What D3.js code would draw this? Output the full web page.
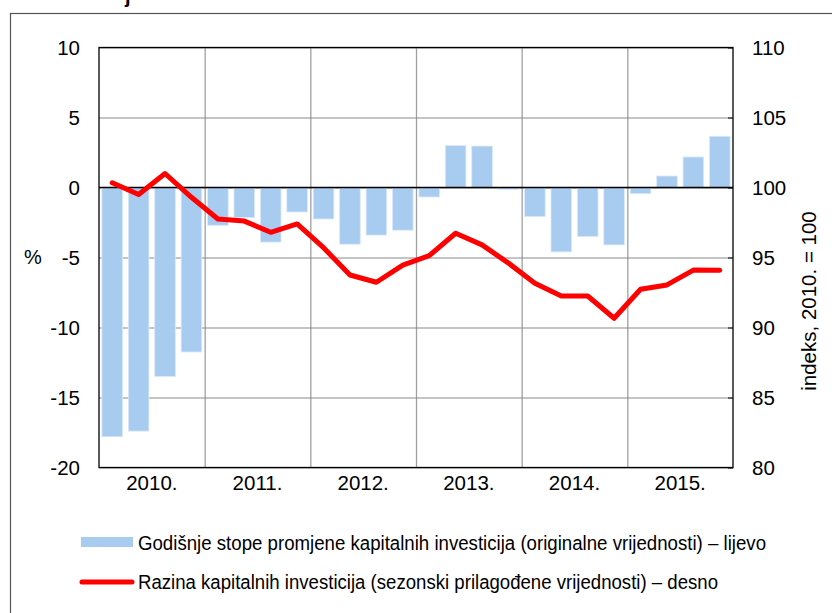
<!DOCTYPE html>
<html>
<head>
<meta charset="utf-8">
<script src="https://cdn.jsdelivr.net/npm/d3@7"></script>
<style>
  body { margin: 0; background: #fff; }
  svg { display: block; font-family: "Liberation Sans", Arial, sans-serif; }
</style>
</head>
<body>
<svg id="chart" width="832" height="613"></svg>
<script>
// data
const years = ["2010.", "2011.", "2012.", "2013.", "2014.", "2015."];
const quarters = ["Q1", "Q2", "Q3", "Q4"];
const periods = years.flatMap(y => quarters.map(q => y + q));

// annual growth rates of capital investment, % (left axis)
const growth = [-17.8, -17.4, -13.5, -11.75, -2.7, -2.15, -3.9, -1.75,
  -2.25, -4.05, -3.4, -3.05, -0.68, 3.0, 2.96, -0.13,
  -2.08, -4.6, -3.5, -4.1, -0.44, 0.82, 2.18, 3.66];
// seasonally adjusted level, index 2010 = 100 (right axis)
const level = [100.34, 99.5, 101.0, 99.3, 97.75, 97.6, 96.8, 97.4,
  95.7, 93.75, 93.23, 94.46, 95.13, 96.73, 95.9, 94.6,
  93.16, 92.25, 92.25, 90.66, 92.73, 93.04, 94.1, 94.09];

const leftTicks = [-20, -15, -10, -5, 0, 5, 10];
const rightTicks = [80, 85, 90, 95, 100, 105, 110];

const legendLabels = [
  "Godišnje stope promjene kapitalnih investicija (originalne vrijednosti) – lijevo",
  "Razina kapitalnih investicija (sezonski prilagođene vrijednosti) – desno"
];

const margin = { left: 99, right: 733, top: 47.5, bottom: 467.5 };
const svg = d3.select("#chart");

// outer frame (runs off the right and bottom edge)
svg.append("rect")
  .attr("x", 10.5).attr("y", 13.5)
  .attr("width", 900).attr("height", 700)
  .attr("fill", "none").attr("stroke", "#555").attr("stroke-width", 1.2);

// cut-off title fragment at the very top
svg.append("text")
  .attr("x", 125).attr("y", 3)
  .attr("font-size", 20).attr("font-weight", "bold")
  .text("j");

const x = d3.scaleBand(periods, [margin.left, margin.right])
  .paddingInner(0.22).paddingOuter(0.11);
const xYear = d3.scaleBand(years, [margin.left, margin.right]);
const yL = d3.scaleLinear([-20, 10], [margin.bottom, margin.top]);
const yR = d3.scaleLinear([80, 110], [margin.bottom, margin.top]);

// vertical year gridlines
svg.append("g")
  .selectAll("line")
  .data(years.slice(1))
  .join("line")
  .attr("x1", d => xYear(d) + 0.5).attr("x2", d => xYear(d) + 0.5)
  .attr("y1", margin.top).attr("y2", margin.bottom)
  .attr("stroke", "#a0a0a0").attr("stroke-width", 1.3);

// left axis with horizontal gridlines
const gL = svg.append("g")
  .attr("transform", `translate(${margin.left},0)`)
  .call(d3.axisLeft(yL).tickValues(leftTicks).tickFormat(d => String(d))
    .tickSize(-(margin.right - margin.left)).tickPadding(19));
gL.select(".domain").remove();
gL.selectAll(".tick line").attr("stroke", "#8a8a8a").attr("stroke-width", 1.1);
gL.selectAll(".tick text").attr("font-size", 20.5).attr("fill", "#000");

// bars
svg.append("g")
  .selectAll("rect")
  .data(growth)
  .join("rect")
  .attr("x", (d, i) => x(periods[i]))
  .attr("width", x.bandwidth())
  .attr("y", d => yL(Math.max(0, d)))
  .attr("height", d => Math.abs(yL(d) - yL(0)))
  .attr("fill", "#a8cbf0")
  .attr("stroke", "#dbe9f9").attr("stroke-width", 0.8);

// zero line
svg.append("line")
  .attr("x1", margin.left).attr("x2", margin.right)
  .attr("y1", yL(0)).attr("y2", yL(0))
  .attr("stroke", "#000").attr("stroke-width", 1.3);

// right axis
const gR = svg.append("g")
  .attr("transform", `translate(${margin.right},0)`)
  .call(d3.axisRight(yR).tickValues(rightTicks).tickFormat(d => String(d))
    .tickSize(-5).tickPadding(19));
gR.select(".domain").remove();
gR.selectAll(".tick line").attr("stroke", "#000");
gR.selectAll(".tick text").attr("font-size", 20.5).attr("fill", "#000");

// bottom axis labels
const gB = svg.append("g")
  .attr("transform", `translate(0,${margin.bottom})`)
  .call(d3.axisBottom(xYear).tickSize(0).tickPadding(8));
gB.select(".domain").remove();
gB.selectAll(".tick text").attr("font-size", 20.5).attr("fill", "#000");

// plot frame
svg.append("rect")
  .attr("x", margin.left).attr("y", margin.top)
  .attr("width", margin.right - margin.left)
  .attr("height", margin.bottom - margin.top)
  .attr("fill", "none").attr("stroke", "#000").attr("stroke-width", 1.3);

// level line
const line = d3.line()
  .x((d, i) => x(periods[i]) + x.bandwidth() / 2)
  .y(d => yR(d));
svg.append("path")
  .datum(level)
  .attr("d", line)
  .attr("fill", "none")
  .attr("stroke", "#ff0000").attr("stroke-width", 5)
  .attr("stroke-linejoin", "round").attr("stroke-linecap", "round");

// axis titles
svg.append("text")
  .attr("x", 33).attr("y", 264)
  .attr("text-anchor", "middle").attr("font-size", 20)
  .text("%");
svg.append("text")
  .attr("transform", "translate(816,301) rotate(-90)")
  .attr("text-anchor", "middle").attr("font-size", 20.5)
  .text("indeks, 2010. = 100");

// legend
svg.append("rect")
  .attr("x", 81).attr("y", 537).attr("width", 52).attr("height", 10)
  .attr("fill", "#a8cbf0");
svg.append("line")
  .attr("x1", 82).attr("x2", 132).attr("y1", 582).attr("y2", 582)
  .attr("stroke", "#ff0000").attr("stroke-width", 5).attr("stroke-linecap", "round");
svg.append("text")
  .attr("x", 138).attr("y", 550).attr("font-size", 20)
  .attr("textLength", 628).attr("lengthAdjust", "spacingAndGlyphs")
  .text(legendLabels[0]);
svg.append("text")
  .attr("x", 138).attr("y", 589).attr("font-size", 20)
  .attr("textLength", 580).attr("lengthAdjust", "spacingAndGlyphs")
  .text(legendLabels[1]);
</script>
</body>
</html>
